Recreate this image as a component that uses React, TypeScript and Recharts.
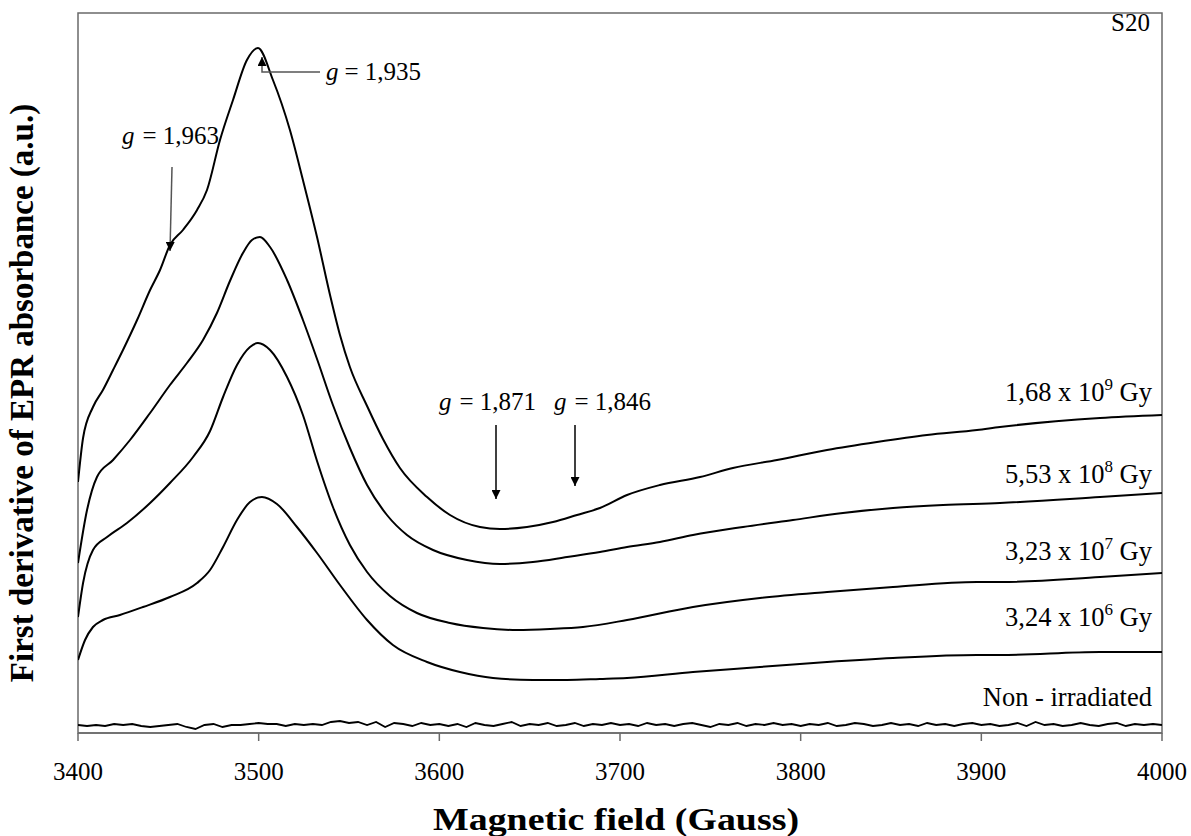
import React from 'react'
import { LineChart, Line, XAxis, YAxis, ReferenceArea } from 'recharts'

// magnetic field ticks (Gauss)
const fieldTicks = [3400, 3500, 3600, 3700, 3800, 3900, 4000]

// 1,68 x 10^9 Gy
const field1 = [3400, 3402.8, 3408.3, 3413.8, 3419.4, 3424.9, 3432.7, 3439.9, 3445.4, 3450.9, 3458.1, 3465.9, 3471.4, 3478.6, 3485.8, 3493.5, 3499.6, 3507.9, 3517.3, 3524.5, 3532.3, 3539.5, 3545.0, 3550.5, 3560.0, 3568.8, 3578.2, 3593.2, 3605.9, 3622.5, 3633.6, 3648.5, 3662.9, 3676.2, 3688.9, 3703.9, 3722.1, 3744.3, 3762.5, 3786.9, 3814.6, 3842.2, 3869.9, 3897.6, 3910.3, 3965.7, 4000]
const signal1 = [251, 295, 326, 343, 363, 383, 413, 443, 463, 488, 503, 523, 543, 593, 633, 673, 685, 653, 603, 553, 496, 438, 398, 366, 327, 294, 265, 236, 218, 206, 204, 206, 211, 218, 225, 238, 248, 256, 265, 273, 283, 291, 298, 303, 306, 315, 318]

// 5,53 x 10^8 Gy
const field2 = [3400, 3405.0, 3410.5, 3419.4, 3428.8, 3439.9, 3450.9, 3460.3, 3469.2, 3476.9, 3484.1, 3491.3, 3496.3, 3500.7, 3506.3, 3515.7, 3524.5, 3532.3, 3541.1, 3550.5, 3560.0, 3571.0, 3582.1, 3596.5, 3615.3, 3633.6, 3651.8, 3670.7, 3688.9, 3703.9, 3722.1, 3740.4, 3768.1, 3795.7, 3823.4, 3851.1, 3878.8, 3910.3, 3965.7, 4000]
const signal2 = [170, 223, 256, 273, 293, 320, 348, 370, 393, 420, 452, 480, 493, 496, 486, 453, 413, 374, 328, 285, 248, 218, 198, 183, 173, 169, 171, 176, 181, 186, 191, 198, 206, 213, 220, 225, 228, 230, 236, 240]

// 3,23 x 10^7 Gy
const field3 = [3400, 3402.8, 3408.3, 3416.1, 3427.1, 3439.9, 3450.9, 3463.7, 3473.1, 3480.3, 3488.0, 3495.2, 3499.6, 3506.3, 3515.7, 3524.5, 3532.3, 3541.1, 3550.5, 3560.0, 3572.7, 3587.6, 3605.9, 3624.2, 3643.0, 3661.3, 3679.5, 3703.9, 3740.4, 3777.5, 3814.6, 3851.1, 3897.6, 3910.3, 3965.7, 4000]
const signal3 = [116, 150, 183, 196, 210, 230, 250, 276, 302, 336, 368, 386, 390, 383, 356, 318, 272, 226, 188, 161, 137, 120, 110, 105, 103, 104, 106, 113, 126, 135, 141, 146, 151, 151, 156, 160]

// 3,24 x 10^6 Gy
const field4 = [3400, 3403.9, 3408.3, 3413.8, 3423.2, 3436.0, 3450.9, 3465.9, 3473.1, 3480.3, 3488.0, 3495.2, 3501.8, 3510.1, 3521.2, 3532.3, 3545.0, 3560.0, 3574.3, 3593.2, 3611.4, 3629.7, 3651.8, 3670.7, 3688.9, 3703.9, 3740.4, 3777.5, 3814.6, 3851.1, 3897.6, 3910.3, 3965.7, 4000]
const signal4 = [73, 93, 106, 113, 118, 126, 136, 150, 163, 186, 213, 231, 236, 229, 206, 180, 148, 113, 88, 71, 61, 55, 53, 53, 54, 55, 61, 66, 71, 75, 78, 78, 81, 81]

// non-irradiated (noise only)
const field0 = [
  3400, 3405, 3410, 3415, 3420, 3425, 3430, 3435, 3440, 3445, 3450, 3455, 3460, 3465, 3470, 3475, 3480, 3485, 3490, 3495,
  3500, 3505, 3510, 3515, 3520, 3525, 3530, 3535, 3540, 3545, 3550, 3555, 3560, 3565, 3570, 3575, 3580, 3585, 3590, 3595,
  3600, 3605, 3610, 3615, 3620, 3625, 3630, 3635, 3640, 3645, 3650, 3655, 3660, 3665, 3670, 3675, 3680, 3685, 3690, 3695,
  3700, 3705, 3710, 3715, 3720, 3725, 3730, 3735, 3740, 3745, 3750, 3755, 3760, 3765, 3770, 3775, 3780, 3785, 3790, 3795,
  3800, 3805, 3810, 3815, 3820, 3825, 3830, 3835, 3840, 3845, 3850, 3855, 3860, 3865, 3870, 3875, 3880, 3885, 3890, 3895,
  3900, 3905, 3910, 3915, 3920, 3925, 3930, 3935, 3940, 3945, 3950, 3955, 3960, 3965, 3970, 3975, 3980, 3985, 3990, 3995, 4000,
]
const signal0 = [
  8, 7, 8, 7, 9, 8, 9, 7, 6, 7, 8, 9, 6, 4, 8, 9, 6, 8, 8, 9,
  10, 9, 9, 7, 9, 8, 9, 8, 11, 12, 10, 11, 8, 11, 6, 10, 9, 7, 10, 8,
  9, 7, 9, 6, 10, 8, 7, 9, 11, 7, 9, 8, 10, 7, 8, 10, 7, 9, 8, 10,
  8, 9, 7, 10, 8, 9, 7, 9, 10, 8, 6, 9, 8, 10, 7, 9, 8, 10, 8, 9,
  7, 9, 8, 10, 7, 8, 10, 9, 7, 8, 10, 8, 9, 7, 10, 8, 9, 7, 9, 10,
  8, 9, 7, 8, 10, 7, 11, 8, 9, 7, 8, 10, 8, 7, 9, 10, 7, 9, 8, 9, 8,
]

const toPoints = (f: number[], s: number[]) => f.map((g, i) => ({ g, v: s[i] }))

const series = [
  toPoints(field1, signal1),
  toPoints(field2, signal2),
  toPoints(field3, signal3),
  toPoints(field4, signal4),
]
const noise = toPoints(field0, signal0)

const serif = '"Liberation Serif", "Times New Roman", serif'
const frame = '#6a6a6a'

function FieldTick(props: any) {
  const { x, y, payload } = props
  return (
    <text x={x} y={y} dy={17} textAnchor="middle" fontFamily={serif} fontSize={25} fill="#000">
      {payload.value}
    </text>
  )
}

function Annotations() {
  const t = { fontFamily: serif, fontSize: 25, fill: '#000' }
  const s = { fontFamily: serif, fontSize: 26.5, fill: '#000' }
  return (
    <svg width={1191} height={836} style={{ position: 'absolute', left: 0, top: 0, pointerEvents: 'none' }}>
      <defs>
        <marker id="head" viewBox="0 0 10 10" refX="10" refY="5" markerWidth="9" markerHeight="9"
          markerUnits="userSpaceOnUse" orient="auto">
          <path d="M0,0 L10,5 L0,10 z" fill="#000" />
        </marker>
      </defs>

      <text x={1150} y={31} textAnchor="end" {...t}>S20</text>

      <text x={122} y={144} {...t}><tspan fontStyle="italic">g</tspan><tspan dx={8}>= 1,963</tspan></text>
      <line x1={172} y1={167} x2={170} y2={251} stroke="#555" strokeWidth={1.5} markerEnd="url(#head)" />

      <text x={326} y={80} {...t}><tspan fontStyle="italic">g</tspan><tspan dx={6}>= 1,935</tspan></text>
      <polyline points="320,72 262,72 262,57" fill="none" stroke="#555" strokeWidth={1.5} markerEnd="url(#head)" />

      <text x={439} y={410} {...t}><tspan fontStyle="italic">g</tspan><tspan dx={8}>= 1,871</tspan></text>
      <line x1={496} y1={425} x2={496} y2={499} stroke="#000" strokeWidth={1.5} markerEnd="url(#head)" />

      <text x={554} y={410} {...t}><tspan fontStyle="italic">g</tspan><tspan dx={8}>= 1,846</tspan></text>
      <line x1={575} y1={425} x2={575} y2={486} stroke="#000" strokeWidth={1.5} markerEnd="url(#head)" />

      <text x={1152} y={401} textAnchor="end" {...s}>1,68 x 10<tspan dy={-11} fontSize={17}>9</tspan><tspan dy={11}> Gy</tspan></text>
      <text x={1152} y={483} textAnchor="end" {...s}>5,53 x 10<tspan dy={-11} fontSize={17}>8</tspan><tspan dy={11}> Gy</tspan></text>
      <text x={1152} y={560} textAnchor="end" {...s}>3,23 x 10<tspan dy={-11} fontSize={17}>7</tspan><tspan dy={11}> Gy</tspan></text>
      <text x={1152} y={626} textAnchor="end" {...s}>3,24 x 10<tspan dy={-11} fontSize={17}>6</tspan><tspan dy={11}> Gy</tspan></text>
      <text x={1152} y={706} textAnchor="end" {...s}>Non - irradiated</text>

      <text x={616} y={830} textAnchor="middle" fontFamily={serif} fontSize={31} fontWeight="bold"
        textLength={366} lengthAdjust="spacingAndGlyphs">
        Magnetic field (Gauss)
      </text>
      <text x={33} y={393} textAnchor="middle" fontFamily={serif} fontSize={33} fontWeight="bold"
        transform="rotate(-90 33 393)">
        First derivative of EPR absorbance (a.u.)
      </text>
    </svg>
  )
}

export default function App() {
  return (
    <div style={{ position: 'absolute', left: 0, top: 0, width: 1191, height: 836, background: '#fff' }}>
      <LineChart width={1191} height={836} margin={{ top: 13, right: 29, left: 78, bottom: 0 }}>
        <XAxis dataKey="g" type="number" domain={[3400, 4000]} ticks={fieldTicks} allowDataOverflow
          height={103} tickSize={8} tickMargin={22}
          stroke={frame} strokeWidth={1.5}
          tick={<FieldTick />} />
        <YAxis type="number" domain={[0, 720]} hide allowDataOverflow />
        <ReferenceArea x1={3400} x2={4000} y1={0} y2={720} fill="none" stroke={frame} strokeWidth={1.5} />
        {series.map((d, i) => (
          <Line key={i} data={d} dataKey="v" type="monotone" stroke="#000" strokeWidth={2}
            dot={false} isAnimationActive={false} />
        ))}
        <Line data={noise} dataKey="v" type="linear" stroke="#000" strokeWidth={1.8}
          dot={false} isAnimationActive={false} />
      </LineChart>
      <Annotations />
    </div>
  )
}
